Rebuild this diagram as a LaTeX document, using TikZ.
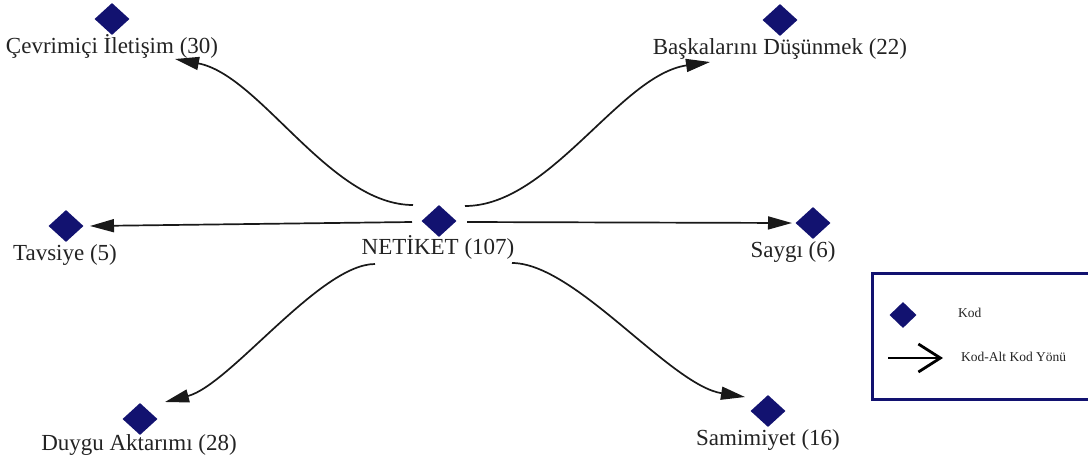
\documentclass[tikz,border=0pt]{standalone}
\usepackage{fontspec}
\setmainfont{Liberation Serif}
\usetikzlibrary{shapes.geometric,arrows.meta}
\definecolor{navy}{RGB}{18,18,112}
\definecolor{txt}{RGB}{35,35,35}
\begin{document}
\begin{tikzpicture}[x=1pt,y=-1pt,
  code/.style={diamond, fill=navy, draw=none, minimum width=35pt, minimum height=32pt, inner sep=0pt},
  legcode/.style={diamond, fill=navy, draw=none, minimum width=27pt, minimum height=26pt, inner sep=0pt},
  lbl/.style={font=\fontsize{23}{27}\selectfont, text=txt, inner sep=0pt, anchor=base},
  leglbl/.style={font=\fontsize{13.5}{16}\selectfont, text=txt, inner sep=0pt, anchor=west},
  link/.style={line width=1.7pt, draw=black!90, -{Triangle[length=24pt,width=13pt]}},
  leglink/.style={line width=2.8pt, draw=black, -{Straight Barb[length=22pt,width=28pt,line width=2.8pt]}},
  legbox/.style={draw=navy, line width=3pt}]
\useasboundingbox (0,0) rectangle (1088,459);
% codes
\node[code] (net) at (439,221) {};
\node[code] (cev) at (112,19) {};
\node[code] (bas) at (780,20) {};
\node[code] (tav) at (66,226) {};
\node[code] (say) at (813,223) {};
\node[code] (duy) at (140,419) {};
\node[code] (sam) at (768,411) {};
% labels
\node[lbl] (netl) at (438,254) {NETİKET (107)};
\node[lbl] (cevl) at (112,53) {Çevrimiçi İletişim (30)};
\node[lbl] (basl) at (780,54) {Başkalarını Düşünmek (22)};
\node[lbl] (tavl) at (65,260) {Tavsiye (5)};
\node[lbl] (sayl) at (793,257) {Saygı (6)};
\node[lbl] (duyl) at (139,450) {Duygu Aktarımı (28)};
\node[lbl] (saml) at (768,445) {Samimiyet (16)};
% connectors
\draw[link] ([shift={(-26,-16)}]net.center) .. controls ([shift={(-109,-16)}]net.center) and ([shift={(148,56)}]cev.center) .. ([shift={(63,40)}]cev.center);
\draw[link] ([shift={(26,-15)}]net.center) .. controls ([shift={(111,-15)}]net.center) and ([shift={(-160,55)}]bas.center) .. ([shift={(-70,42)}]bas.center);
\draw[link] ([shift={(-27,1)}]net.center) -- ([shift={(24,0)}]tav.center);
\draw[link] ([shift={(28,1)}]net.center) -- ([shift={(-21,0)}]say.center);
\draw[link] ([shift={(-64,43)}]net.center) .. controls ([shift={(-119,43)}]net.center) and ([shift={(90,-34)}]duy.center) .. ([shift={(25,-17)}]duy.center);
\draw[link] ([shift={(73,42)}]net.center) .. controls ([shift={(136,42)}]net.center) and ([shift={(-98,-26)}]sam.center) .. ([shift={(-23,-14)}]sam.center);
% legend
\begin{scope}
\clip (0,0) rectangle (1088,459);
\draw[legbox] (872,273) rectangle (1100,399);
\end{scope}
\node[legcode] (lk) at (903,315) {};
\node[leglbl] (lkt) at (958,313) {Kod};
\coordinate (la) at (888,358);
\coordinate (lb) at (943,358);
\draw[leglink] (la) -- (lb);
\node[leglbl] (lat) at (961,357) {Kod-Alt Kod Yönü};
\end{tikzpicture}
\end{document}
